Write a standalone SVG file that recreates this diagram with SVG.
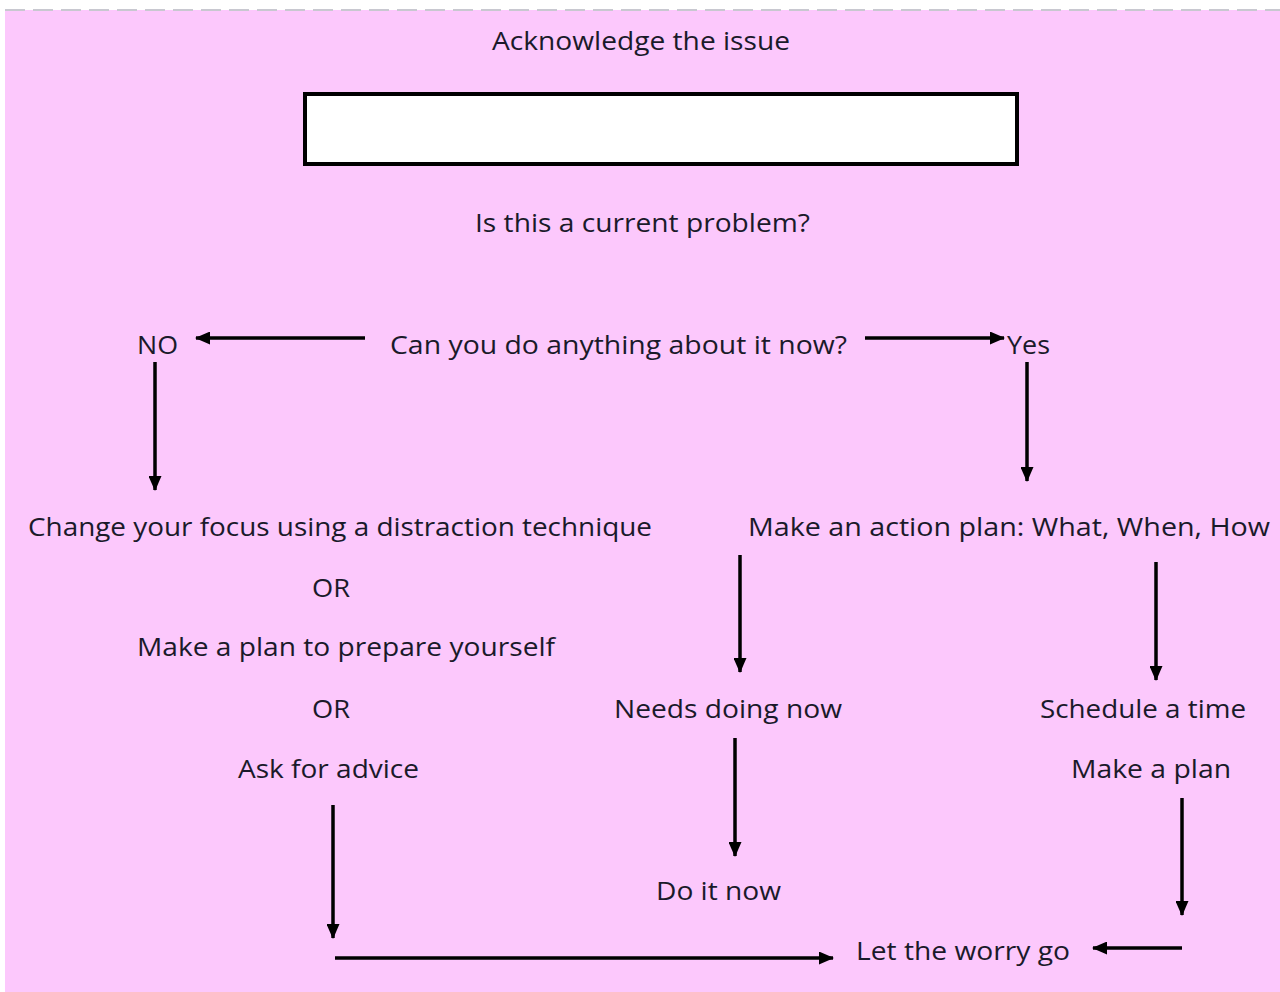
<svg xmlns="http://www.w3.org/2000/svg" width="1280" height="992" viewBox="0 0 1280 992">
<defs>
<marker id="ah" markerUnits="userSpaceOnUse" markerWidth="15" markerHeight="13" refX="14" refY="6.5" orient="auto">
<path d="M0,0 L15,6.5 L0,13 Z" fill="#000"/>
</marker>
<style>
text{font-family:"Open Sans","Liberation Sans",Arial,sans-serif;font-size:25px;fill:#1a1a2a}
.c line{stroke:#000;stroke-width:3.5;marker-end:url(#ah)}
</style>
</defs>
<rect x="0" y="0" width="1280" height="992" fill="#fff"/>
<rect x="5" y="10" width="1275" height="982" fill="#fcc8fc"/>
<line x1="5" y1="10" x2="1280" y2="10" stroke="#c8c8d0" stroke-width="2" stroke-dasharray="20,8"/>
<g id="n-ack"><text x="492" y="50" textLength="298" lengthAdjust="spacingAndGlyphs">Acknowledge the issue</text></g>
<g id="n-box"><rect x="305" y="94" width="712" height="70" fill="#fff" stroke="#000" stroke-width="4"/></g>
<g id="n-current"><text x="475" y="232" textLength="335" lengthAdjust="spacingAndGlyphs">Is this a current problem?</text></g>
<g id="n-no"><text x="137" y="354" textLength="41" lengthAdjust="spacingAndGlyphs">NO</text></g>
<g id="n-can"><text x="390" y="354" textLength="457" lengthAdjust="spacingAndGlyphs">Can you do anything about it now?</text></g>
<g id="n-yes"><text x="1007" y="354" textLength="43" lengthAdjust="spacingAndGlyphs">Yes</text></g>
<g id="n-change"><text x="28" y="536" textLength="624" lengthAdjust="spacingAndGlyphs">Change your focus using a distraction technique</text></g>
<g id="n-action"><text x="748" y="536" textLength="522" lengthAdjust="spacingAndGlyphs">Make an action plan: What, When, How</text></g>
<g id="n-or1"><text x="312" y="597" textLength="38" lengthAdjust="spacingAndGlyphs">OR</text></g>
<g id="n-prepare"><text x="137" y="656" textLength="418" lengthAdjust="spacingAndGlyphs">Make a plan to prepare yourself</text></g>
<g id="n-or2"><text x="312" y="718" textLength="38" lengthAdjust="spacingAndGlyphs">OR</text></g>
<g id="n-needs"><text x="614" y="718" textLength="228" lengthAdjust="spacingAndGlyphs">Needs doing now</text></g>
<g id="n-schedule"><text x="1040" y="718" textLength="206" lengthAdjust="spacingAndGlyphs">Schedule a time</text></g>
<g id="n-advice"><text x="238" y="778" textLength="181" lengthAdjust="spacingAndGlyphs">Ask for advice</text></g>
<g id="n-makeplan"><text x="1071" y="778" textLength="160" lengthAdjust="spacingAndGlyphs">Make a plan</text></g>
<g id="n-doit"><text x="656" y="900" textLength="125" lengthAdjust="spacingAndGlyphs">Do it now</text></g>
<g id="n-letgo"><text x="856" y="960" textLength="214" lengthAdjust="spacingAndGlyphs">Let the worry go</text></g>
<g id="connectors" class="c">
<line x1="365" y1="338" x2="196" y2="338"/>
<line x1="155" y1="362" x2="155" y2="490"/>
<line x1="865" y1="338" x2="1004" y2="338"/>
<line x1="1027" y1="362" x2="1027" y2="481"/>
<line x1="740" y1="555" x2="740" y2="672"/>
<line x1="1156" y1="562" x2="1156" y2="680"/>
<line x1="735" y1="738" x2="735" y2="856"/>
<line x1="1182" y1="798" x2="1182" y2="915"/>
<line x1="333" y1="805" x2="333" y2="938"/>
<line x1="335" y1="958" x2="833" y2="958"/>
<line x1="1182" y1="948" x2="1093" y2="948"/>
</g>
</svg>
